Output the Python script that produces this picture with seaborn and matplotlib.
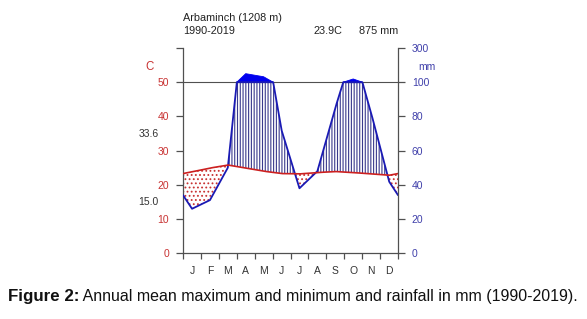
import numpy as np
import pandas as pd
import matplotlib
matplotlib.use("Agg")
import matplotlib.pyplot as plt
import seaborn as sns

# ---------------- data ----------------
months = ['J', 'F', 'M', 'A', 'M', 'J', 'J', 'A', 'S', 'O', 'N', 'D']
temp_mean = [23.8, 24.9, 25.8, 24.9, 24.0, 23.3, 23.2, 23.6, 23.9, 23.6, 23.2, 22.8]
precip_mm = [26, 31, 50, 150, 132, 72, 38, 48, 85, 119, 82, 42]
station = 'Arbaminch (1208 m)'
period = '1990-2019'
annual_temp = '23.9C'
annual_precip = '875 mm'
max_warm_label = '33.6'
min_cold_label = '15.0'
temp_tick_values = [0, 10, 20, 30, 40, 50, 60]
temp_tick_labels = ['0', '10', '20', '30', '40', '50', '']
precip_tick_labels = ['0', '20', '40', '60', '80', '100', '300']
caption_bold = 'Figure 2:'
caption_rest = ' Annual mean maximum and minimum and rainfall in mm (1990-2019).'

# ---------------- style ----------------
sns.set_style('ticks')
plt.rcParams['font.family'] = ['Liberation Sans', 'DejaVu Sans']
plt.rcParams['hatch.linewidth'] = 0.8

RED = '#c83232'
TEMP_RED = '#cc2020'
BLUE = '#1a1ab4'
LBLUE = '#4040aa'
HATCH_BLUE = '#3a3a8c'
AXC = '#505050'
FS = 7.5

fig = plt.figure(figsize=(5.87, 3.19), dpi=100)
ax = fig.add_axes([183 / 587, 1 - 253.3 / 319, 215 / 587, (253.3 - 48) / 319])

# ---------------- derived series (Walter-Lieth scaling) ----------------
xn = np.concatenate([[0], np.arange(12) + 0.5, [12]])
t_edge = (temp_mean[0] + temp_mean[-1]) / 2
p_edge = (precip_mm[0] + precip_mm[-1]) / 2
tn = np.concatenate([[t_edge], temp_mean, [t_edge]])
pn = np.concatenate([[p_edge], precip_mm, [p_edge]])
un = pn / 2.0  # 2 mm per degree

xs = np.linspace(0, 12, 2401)
ti = np.interp(xs, xn, tn)
ui = np.interp(xs, xn, un)

# compressed cap above 100 mm
cap_x, cap_y = [], []
for i in range(len(xn) - 1):
    cap_x.append(xn[i])
    cap_y.append(50 + (pn[i] - 100) / 20 if un[i] > 50 else 50)
    if (un[i] - 50) * (un[i + 1] - 50) < 0:
        cap_x.append(xn[i] + (50 - un[i]) / (un[i + 1] - un[i]) * (xn[i + 1] - xn[i]))
        cap_y.append(50)
cap_x.append(xn[-1])
cap_y.append(50 + (pn[-1] - 100) / 20 if un[-1] > 50 else 50)
ci = np.interp(xs, cap_x, cap_y)

df = pd.DataFrame({'x': xs, 'temp': ti, 'prec': np.minimum(ui, 50), 'cap': ci})

# humid period: vertical lines
ax.fill_between(df['x'], df['temp'], df['prec'], where=ui > ti, interpolate=True,
                facecolor='none', edgecolor=HATCH_BLUE, hatch='||||||', linewidth=0)
# dry period: red dots
ax.fill_between(df['x'], df['prec'], df['temp'], where=ti > ui, interpolate=True,
                facecolor='none', edgecolor=RED, hatch='....', linewidth=0)
# wet cap above 100 mm
ax.fill_between(df['x'], 50, df['cap'], where=ci > 50, interpolate=True,
                facecolor='#0000ee', edgecolor='#0000ee', linewidth=0.6)

ax.axhline(50, color=AXC, lw=0.8, zorder=1)

sns.lineplot(data=df, x='x', y='prec', ax=ax, color=BLUE, lw=1.3, zorder=4)
sns.lineplot(data=df, x='x', y='temp', ax=ax, color=TEMP_RED, lw=1.2, zorder=5)

# ---------------- axes ----------------
ax.set_xlim(0, 12)
ax.set_ylim(0, 60)
ax.set_xlabel('')
ax.set_ylabel('')
for s in ['top', 'right']:
    ax.spines[s].set_visible(False)
for s in ['left', 'bottom']:
    ax.spines[s].set_color(AXC)
    ax.spines[s].set_linewidth(0.9)

ax.set_yticks(temp_tick_values)
ax.set_yticklabels(temp_tick_labels)
ax.tick_params(axis='y', colors=AXC, labelcolor=RED, labelsize=FS, length=5, width=0.9, pad=5)
ax.set_xticks(np.arange(13))
ax.set_xticklabels([''] * 13)
ax.set_xticks(np.arange(12) + 0.5, minor=True)
ax.set_xticklabels(months, minor=True)
ax.tick_params(axis='x', which='major', colors=AXC, length=4, width=0.9)
ax.tick_params(axis='x', which='minor', length=0, labelsize=FS, labelcolor='#333333', pad=9)

tw = ax.twinx()
tw.set_ylim(0, 60)
tw.set_yticks(temp_tick_values)
tw.set_yticklabels(precip_tick_labels)
tw.tick_params(axis='y', colors=AXC, labelcolor=LBLUE, labelsize=FS, length=5, width=0.9, pad=5)
for s in ['top', 'left', 'bottom']:
    tw.spines[s].set_visible(False)
tw.spines['right'].set_color(AXC)
tw.spines['right'].set_linewidth(0.9)

# ---------------- texts ----------------
fig.text(183 / 587, 1 - 18 / 319, station, fontsize=FS + 0.3, color='#222222', va='center', ha='left')
fig.text(183 / 587, 1 - 30.5 / 319, period, fontsize=FS + 0.3, color='#222222', va='center', ha='left')
fig.text(313 / 587, 1 - 30.5 / 319, annual_temp, fontsize=FS + 0.3, color='#222222', va='center', ha='left')
fig.text(398.5 / 587, 1 - 30.5 / 319, annual_precip, fontsize=FS + 0.3, color='#222222', va='center', ha='right')
fig.text(150 / 587, 1 - 67 / 319, 'C', fontsize=FS + 0.8, color=RED, va='center', ha='center')
fig.text(427 / 587, 1 - 67 / 319, 'mm', fontsize=FS, color=LBLUE, va='center', ha='center')
fig.text(158.5 / 587, 1 - 134 / 319, max_warm_label, fontsize=FS, color='#333333', va='center', ha='right')
fig.text(158.5 / 587, 1 - 202 / 319, min_cold_label, fontsize=FS, color='#333333', va='center', ha='right')

t1 = fig.text(8 / 587, 1 - 296 / 319, caption_bold, fontsize=12.2, fontweight='bold', color='#111111',
              va='center', ha='left')
plt.annotate(caption_rest, xy=(1, 0.5), xycoords=t1, xytext=(0, 0), textcoords='offset points',
             va='center', ha='left', fontsize=11.5, color='#111111', annotation_clip=False)

fig.savefig('out.png', dpi=100, facecolor='white')
